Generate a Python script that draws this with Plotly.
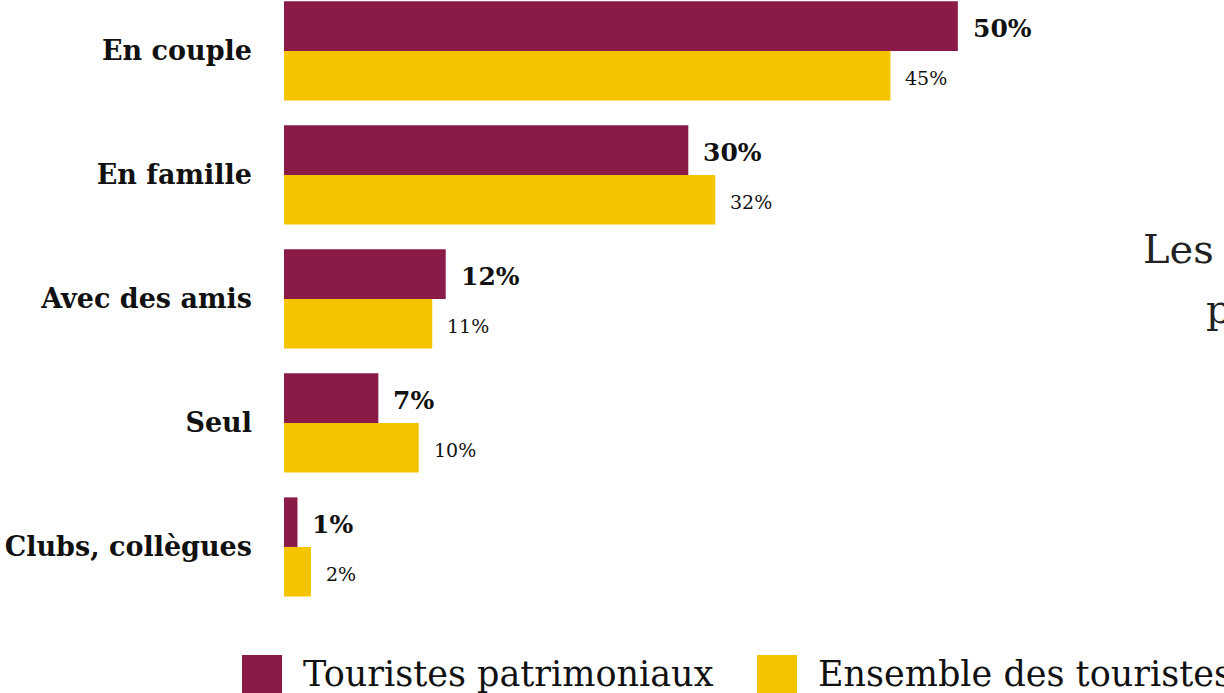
import plotly.graph_objects as go

# --- data ---
categories = ["En couple", "En famille", "Avec des amis", "Seul", "Clubs, collègues"]
series_names = ["Touristes patrimoniaux", "Ensemble des touristes"]
patrimoniaux = [50, 30, 12, 7, 1]
ensemble = [45, 32, 11, 10, 2]
title_lines = ["Les compagnons de voyage", "patrimoniaux"]

PURPLE = "#8A1B49"
YELLOW = "#F5C400"
SERIF = "Roboto Slab, DejaVu Serif, serif"

# plot area geometry (figure pixels)
L, PW, PB = 284, 876, 620


def px(x):
    return (x - L) / PW


def py(y):
    return (PB - y) / PB


fig = go.Figure()
fig.add_trace(go.Bar(y=categories, x=patrimoniaux, name=series_names[0],
                     orientation="h", marker=dict(color=PURPLE, line=dict(width=0))))
fig.add_trace(go.Bar(y=categories, x=ensemble, name=series_names[1],
                     orientation="h", marker=dict(color=YELLOW, line=dict(width=0))))

# value labels next to the bars
for cat, v in zip(categories, patrimoniaux):
    fig.add_annotation(x=v, y=cat, text=f"<b>{v}%</b>", showarrow=False,
                       xanchor="left", xshift=13, yshift=22,
                       font=dict(family=SERIF, size=25, color="#111111"))
for cat, v in zip(categories, ensemble):
    fig.add_annotation(x=v, y=cat, text=f"{v}%", showarrow=False,
                       xanchor="left", xshift=13, yshift=-27,
                       font=dict(family=SERIF, size=19, color="#111111"))

# hand-drawn legend (big squares like the original)
legend_x = [242, 757]
for name, col, lx in zip(series_names, [PURPLE, YELLOW], legend_x):
    fig.add_shape(type="rect", xref="paper", yref="paper",
                  x0=px(lx), x1=px(lx + 40), y0=py(696), y1=py(655),
                  fillcolor=col, line=dict(width=0))
    fig.add_annotation(xref="paper", yref="paper", x=px(lx + 59), y=py(674),
                       text=name, showarrow=False, xanchor="left", yanchor="middle",
                       font=dict(family=SERIF, size=35, color="#111111"))

# title, mostly cut off at the right edge
fig.add_annotation(xref="paper", yref="paper", x=px(1141), y=py(249),
                   text=title_lines[0], showarrow=False, xanchor="left", yanchor="middle",
                   font=dict(family=SERIF, size=40, color="#222222"))
fig.add_annotation(xref="paper", yref="paper", x=px(1204), y=py(309),
                   text=title_lines[1], showarrow=False, xanchor="left", yanchor="middle",
                   font=dict(family=SERIF, size=40, color="#222222"))

fig.update_layout(
    width=1224, height=693,
    margin=dict(l=L, r=1224 - L - PW, t=0, b=693 - PB),
    barmode="group", bargap=0.2, bargroupgap=0,
    plot_bgcolor="white", paper_bgcolor="white",
    showlegend=False,
    xaxis=dict(range=[0, 65], visible=False, fixedrange=True),
    yaxis=dict(range=[4.589, -0.411], showgrid=False, zeroline=False, showline=False,
               ticks="", ticklabelstandoff=31, fixedrange=True,
               tickfont=dict(family=SERIF, size=27, color="#111111", weight="bold")),
)

# the page should start flush at the top-left corner, like the original
fig.write_html("out.html", config={"displayModeBar": False},
               post_script="document.body.style.margin='0';")
